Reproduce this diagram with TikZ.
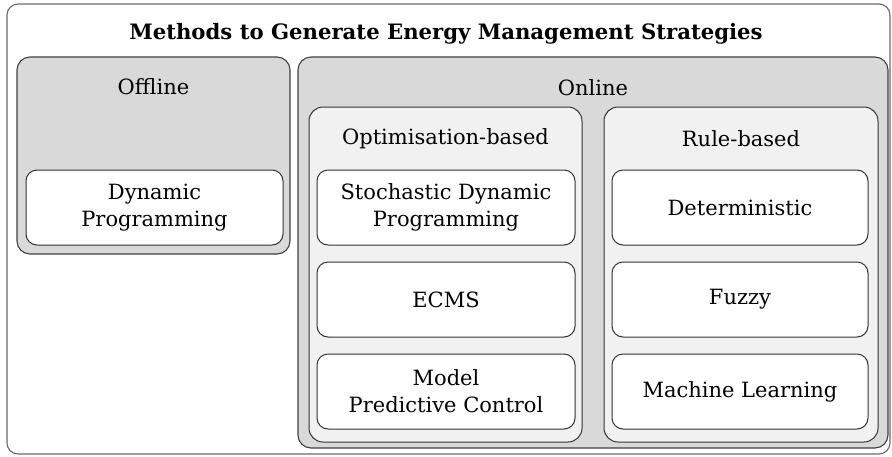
\documentclass[tikz,border=0pt]{standalone}
\usepackage{fontspec}
\setmainfont{DejaVu Serif}
\usetikzlibrary{positioning}
\definecolor{panelgray}{HTML}{D9D9D9}
\definecolor{groupgray}{HTML}{F1F1F1}
\definecolor{edgegray}{HTML}{6A6A6A}

\tikzset{
    frame/.style={draw=edgegray, line width=1.1pt, rounded corners=11pt, fill=white, inner sep=0pt},
    panel/.style={draw=black!75, line width=1.1pt, rounded corners=13pt, fill=panelgray, inner sep=0pt},
    group/.style={draw=black!80, line width=1pt, rounded corners=14pt, fill=groupgray, inner sep=0pt},
    item/.style={draw=black!80, line width=1pt, rounded corners=11pt, fill=white, align=center,
        minimum height=75pt, inner sep=0pt, font=\fontsize{21}{27}\selectfont},
    caption/.style={font=\fontsize{21}{27}\selectfont},
}

\begin{document}
\begin{tikzpicture}[x=1pt,y=-1pt]
    \useasboundingbox (0,0) rectangle (892,456);
    \node[frame, minimum width=883pt, minimum height=450pt] (methods) at (448.5,229) {};
    \node[font=\fontsize{21.2}{27}\selectfont\bfseries] (title) at (446,34) {Methods to Generate Energy Management Strategies};

    \node[panel, minimum width=273pt, minimum height=197pt] (offline) at (153.5,155.5) {};
    \node[caption] (offlinelbl) at (153.5,87) {Offline};
    \node[item, minimum width=257pt] (dp) at (154.5,207.5) {Dynamic\\Programming};

    \node[panel, minimum width=590pt, minimum height=391pt] (online) at (593,252.5) {};
    \node[caption] (onlinelbl) at (593,88) {Online};

    \node[group, minimum width=273pt, minimum height=335pt] (optim) at (445.5,274.5) {};
    \node[caption] (optimlbl) at (445.5,139) {Optimisation-based};
    \node[group, minimum width=274pt, minimum height=335pt] (rule) at (741,274.5) {};
    \node[caption] (rulelbl) at (741,139) {Rule-based};

    \node[item, minimum width=258pt] (sdp) at (446,207.5) {Stochastic Dynamic\\Programming};
    \node[item, minimum width=258pt, below=16pt of sdp] (ecms) {ECMS};
    \node[item, minimum width=258pt, below=16pt of ecms] (mpc) {Model\\Predictive Control};

    \node[item, minimum width=256pt] (determ) at (740,207.5) {Deterministic};
    \node[item, minimum width=256pt, below=16pt of determ] (fuzzy) {Fuzzy};
    \node[item, minimum width=256pt, below=16pt of fuzzy] (ml) {Machine Learning};
\end{tikzpicture}
\end{document}
